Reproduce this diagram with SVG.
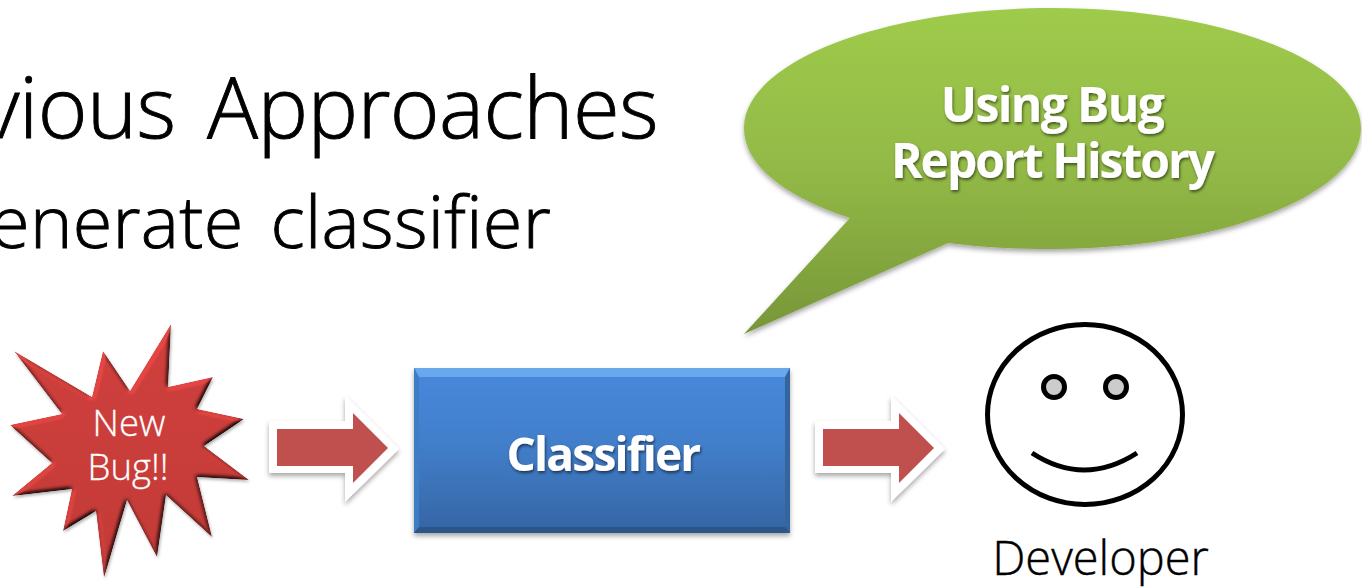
<svg xmlns="http://www.w3.org/2000/svg" width="1362" height="588" viewBox="0 0 1362 588">
<style>
text{font-family:"Open Sans","Noto Sans","Liberation Sans",sans-serif}
.title{fill:#000;text-anchor:end;font-weight:300;stroke:#000;stroke-width:.9}
.bold{fill:#fff;font-weight:700;text-anchor:middle;filter:url(#txtShadow)}
.star{fill:#fff;font-size:36.5px;text-anchor:middle;font-weight:300;stroke:#fff;stroke-width:.3}
.outline{fill:#fff;filter:url(#shadow)}
.red{fill:#c0504d}
.ink{fill:none;stroke:#000;stroke-width:5;stroke-linecap:butt}
</style>
<defs>
<filter id="shadow" x="-20%" y="-20%" width="140%" height="140%"><feDropShadow dx="0" dy="3" stdDeviation="2.5" flood-color="#000" flood-opacity=".35"/></filter>
<filter id="txtShadow" x="-10%" y="-10%" width="120%" height="130%"><feDropShadow dx="1" dy="2" stdDeviation="1.5" flood-color="#000" flood-opacity=".55"/></filter>
<filter id="bevel" x="-10%" y="-10%" width="120%" height="120%" color-interpolation-filters="sRGB">
<feGaussianBlur in="SourceAlpha" stdDeviation="2.2" result="h"/>
<feDiffuseLighting in="h" surfaceScale="3" diffuseConstant="1.1" lighting-color="#fff" result="lit"><feDistantLight azimuth="235" elevation="55"/></feDiffuseLighting>
<feComposite in="SourceGraphic" in2="lit" operator="arithmetic" k1="1.11" k2="0" k3="0" k4="0" result="shaded"/>
<feComposite in="shaded" in2="SourceAlpha" operator="in" result="body"/>
<feDropShadow in="body" dx="1" dy="2" stdDeviation="1.8" flood-color="#000" flood-opacity=".3"/>
</filter>
<linearGradient id="blue" x1="0" y1="0" x2="0" y2="1"><stop offset="0" stop-color="#4788dc"/><stop offset=".45" stop-color="#427fcb"/><stop offset="1" stop-color="#3565a4"/></linearGradient>
<linearGradient id="green" x1="0" y1="0" x2="0" y2="1"><stop offset="0" stop-color="#9fcb4c"/><stop offset=".5" stop-color="#92b946"/><stop offset="1" stop-color="#779638"/></linearGradient>
<linearGradient id="redFill" x1="0" y1="0" x2="0" y2="1"><stop offset="0" stop-color="#d0403d"/><stop offset="1" stop-color="#c23a37"/></linearGradient>
</defs>

<g id="title">
<text class="title" x="658" y="138" font-size="85" letter-spacing="-.6" word-spacing="10">vious Approaches</text>
<text class="title" x="551" y="248" font-size="72" letter-spacing=".3" word-spacing="8">enerate classifier</text>
</g>

<g id="new-bug">
<polygon filter="url(#bevel)" fill="url(#redFill)" points="171,324 168,387 213,377 197,409 244,419 204,446 249,480 197,477 212,537 166,495 157,557 127,500 104,578 96,511 63,531 72,489 12,496 52,463 10,425 62,414 14,351 92,397 103,351 130,391"/>
<text class="star" x="129" y="436">New</text>
<text class="star" x="128" y="480">Bug!!</text>
</g>

<g id="connectors">
<polygon class="outline" points="269,421 345,421 345,395 399,449 345,502 345,473 269,473"/>
<polygon class="red" points="277,429 353,429 353,413 388,448 353,483 353,466 277,466"/>
<polygon class="outline" points="815,421 891,421 891,395 945,449 891,502 891,473 815,473"/>
<polygon class="red" points="823,429 899,429 899,413 934,448 899,483 899,466 823,466"/>
</g>

<g id="classifier">
<rect x="414" y="368" width="376" height="165" fill="url(#blue)" filter="url(#shadow)"/>
<polygon points="414,368 790,368 785,377 419,377" fill="#6aa8ee"/>
<polygon points="414,368 419,377 419,527 414,533" fill="#3f7cc6"/>
<polygon points="790,368 785,377 785,527 790,533" fill="#34659f"/>
<polygon points="414,533 419,527 785,527 790,533" fill="#2c5589"/>
<text class="bold" x="603" y="471" font-size="46" letter-spacing="-1.8">Classifier</text>
</g>

<g id="callout">
<path d="M744,334 L850,218 C785,197 744,165 744,128 C744,62 882,8 1052,8 C1222,8 1361,62 1361,128 C1361,194 1222,249 1052,249 C1012,249 978,247 948,243 Z" fill="url(#green)" filter="url(#shadow)"/>
<text class="bold" x="1052" y="122" font-size="48" letter-spacing="-1.6">Using Bug</text>
<text class="bold" x="1052" y="178" font-size="48" letter-spacing="-2">Report History</text>
</g>

<g id="developer">
<ellipse class="ink" cx="1085" cy="414.5" rx="97.5" ry="90" fill="#fff"/>
<circle cx="1054" cy="387" r="10.5" fill="#ccc" stroke="#000" stroke-width="5"/>
<circle cx="1116" cy="387" r="10.5" fill="#ccc" stroke="#000" stroke-width="5"/>
<path class="ink" d="M1032,453 Q1084,487 1137,453"/>
<text x="1100.5" y="575" font-size="47" font-weight="300" fill="#000" stroke="#000" stroke-width=".4" text-anchor="middle">Developer</text>
</g>
</svg>
